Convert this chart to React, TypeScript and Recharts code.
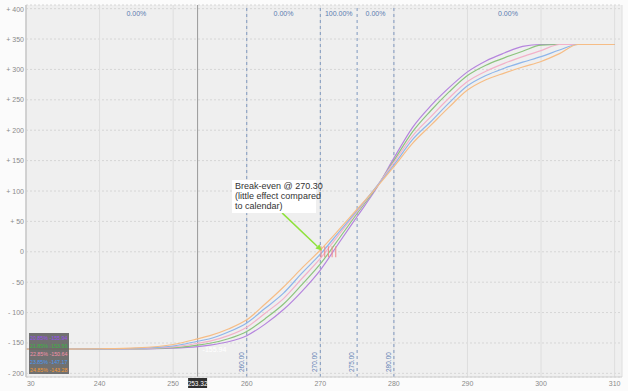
import React from "react"
import {
  LineChart,
  Line,
  XAxis,
  YAxis,
  CartesianGrid,
  ReferenceLine,
  ReferenceArea,
  ReferenceDot,
  Legend,
} from "recharts"

// strike prices along the x axis
const prices = [
  230, 235, 240, 245, 250, 253.32, 255, 257.5, 260, 262.5, 265, 267.5, 270, 272.5,
  275, 277.5, 280, 282.5, 285, 287.5, 290, 292.5, 295, 297.5, 300, 302.5, 305,
  307.5, 310,
]

// P&L per implied volatility
const iv2085 = [
  -160, -160, -160, -159.8, -158.5, -155.94, -153.5, -148, -138, -119, -95, -65,
  -30, 14, 58, 102, 154, 204, 240, 270, 296, 314, 327, 338, 341, 341, 341, 341, 341,
]
const iv2185 = [
  -160, -160, -160, -159.6, -157.8, -153.56, -150.5, -143, -131, -110, -86, -54,
  -20, 21, 63, 104, 150, 197, 232, 263, 290, 307, 319, 330, 340, 341, 341, 341, 341,
]
const iv2285 = [
  -160, -160, -159.9, -159.3, -156.5, -150.64, -147, -138, -124, -101, -77, -44,
  -11, 28, 66, 105, 147, 190, 222, 253, 280, 297, 310, 321, 331, 341, 341, 341, 341,
]
const iv2385 = [
  -160, -160, -159.7, -158.8, -155, -147.17, -143, -132, -117, -93, -68, -35, -4,
  32, 68, 105, 143, 184, 214, 245, 273, 290, 302, 312, 321, 332, 341, 341, 341,
]
const iv2485 = [
  -160, -160, -159.5, -158, -152.5, -143.28, -138, -127, -112, -86, -58, -27, 3,
  36, 70, 104, 140, 178, 208, 238, 266, 283, 294, 304, 313, 326, 341, 341, 341,
]

const seriesKeys = ["iv2085", "iv2185", "iv2285", "iv2385", "iv2485"]
const seriesNames = ["20.85%", "21.85%", "22.85%", "23.85%", "24.85%"]
const lineColors = ["#b584de", "#8cc47e", "#f3b1c9", "#8db5ea", "#f6bd86"]
const legendColors = ["#9b4ff0", "#3bb042", "#f590ab", "#4a98f0", "#f59a30"]

const xTicks = [230, 240, 250, 260, 270, 280, 290, 300, 310]
const yTicks = [-200, -150, -100, -50, 0, 50, 100, 150, 200, 250, 300, 350, 400]

const cursorPrice = 253.32
const strikeLines = [260, 270, 275, 280]
const zones = [
  { from: 230, to: 260, pct: "0.00%" },
  { from: 260, to: 270, pct: "0.00%" },
  { from: 270, to: 275, pct: "100.00%" },
  { from: 275, to: 280, pct: "0.00%" },
  { from: 280, to: 311, pct: "0.00%" },
]
const breakEvens = [270.1, 270.6, 271.1, 271.6, 272.1]

const allSeries = [iv2085, iv2185, iv2285, iv2385, iv2485]
const data = prices.map((p, i) => {
  const row: Record<string, number> = { price: p }
  seriesKeys.forEach((k, j) => {
    row[k] = allSeries[j][i]
  })
  return row
})
const cursorIndex = prices.indexOf(cursorPrice)

function XTick({ x, y, payload }: any) {
  if (payload.value === 230) {
    return (
      <text x={x - 3} y={y} dy={7} textAnchor="start" fontSize={7} fill="#8a8a8a">
        <tspan fillOpacity={0}>2</tspan>
        <tspan>30</tspan>
      </text>
    )
  }
  return (
    <text x={x} y={y} dy={7} textAnchor="middle" fontSize={7} fill="#8a8a8a">
      {payload.value}
    </text>
  )
}

function YTick({ x, y, payload }: any) {
  const v = payload.value
  const s = v > 0 ? `+ ${v}` : v < 0 ? `- ${Math.abs(v)}` : "0"
  return (
    <text x={x} y={y} dy={2.5} textAnchor="end" fontSize={7} fill="#8a8a8a">
      {s}
    </text>
  )
}

const strikeLabel = (text: string) => (props: any) => {
  const vb = props.viewBox
  const x = vb.x - 3
  const y = vb.y + vb.height - 5
  return (
    <text
      x={x}
      y={y}
      transform={`rotate(-90 ${x} ${y})`}
      fontSize={6.5}
      fill="#5d80b3"
      textAnchor="start"
    >
      {text}
    </text>
  )
}

const cursorLabel = (props: any) => {
  const vb = props.viewBox
  const bottom = vb.y + vb.height
  return (
    <g>
      <rect x={vb.x - 9.5} y={bottom + 1} width={19} height={10} fill="#2f2f2f" />
      <text x={vb.x} y={bottom + 8.5} textAnchor="middle" fontSize={6.5} fill="#ffffff">
        {cursorPrice.toFixed(2)}
      </text>
    </g>
  )
}

function Arrow({ x1, y1, x2, y2 }: any) {
  const a = Math.atan2(y2 - y1, x2 - x1)
  const len = 6
  const w = 3
  const bx = x2 - len * Math.cos(a)
  const by = y2 - len * Math.sin(a)
  const p1 = `${bx + w * Math.sin(a)},${by - w * Math.cos(a)}`
  const p2 = `${bx - w * Math.sin(a)},${by + w * Math.cos(a)}`
  return (
    <g>
      <line x1={x1} y1={y1} x2={bx} y2={by} stroke="#8fe23c" strokeWidth={1.5} />
      <polygon points={`${x2},${y2} ${p1} ${p2}`} fill="#8fe23c" />
    </g>
  )
}

function NoteBox({ cx, cy }: any) {
  return (
    <g>
      <rect x={cx} y={cy} width={84} height={33} fill="#ffffff" />
      <text x={cx + 3} y={cy + 9} fontSize={9} fill="#333333">
        Break-even @ 270.30
      </text>
      <text x={cx + 3} y={cy + 19} fontSize={9} fill="#333333">
        (little effect compared
      </text>
      <text x={cx + 3} y={cy + 29} fontSize={9} fill="#333333">
        to calendar)
      </text>
    </g>
  )
}

function CursorValue({ cx, cy }: any) {
  return (
    <text x={cx + 5} y={cy + 5} fontSize={7} fill="#ffffff">
      {iv2085[cursorIndex].toFixed(2)}
    </text>
  )
}

function IvLegend() {
  return (
    <div
      style={{
        background: "rgba(95,95,95,0.88)",
        width: 40,
        height: 41,
        padding: "1px 0 0 1px",
        boxSizing: "border-box",
        fontSize: 5.3,
        lineHeight: "8px",
        whiteSpace: "nowrap",
      }}
    >
      {seriesNames.map((n, i) => (
        <div key={n} style={{ color: legendColors[i] }}>
          {n} {allSeries[i][cursorIndex].toFixed(2)}
        </div>
      ))}
    </div>
  )
}

export default function App() {
  return (
    <div
      style={{
        position: "absolute",
        left: 0,
        top: 0,
        width: 628,
        height: 391,
        background: "#fbfbfb",
        fontFamily: "'Liberation Sans', Arial, sans-serif",
      }}
    >
      <LineChart
        width={628}
        height={391}
        data={data}
        margin={{ top: 5, right: 6, bottom: 0, left: 0 }}
      >
        <CartesianGrid
          vertical={false}
          stroke="#d6d6d6"
          strokeDasharray="2 2"
          fill="#efefef"
        />
        <CartesianGrid horizontal={false} stroke="#dedede" />
        <XAxis
          dataKey="price"
          type="number"
          domain={[230, 311]}
          ticks={xTicks}
          height={14}
          tickSize={0}
          tickMargin={2}
          tick={<XTick />}
          axisLine={{ stroke: "#cfcfcf" }}
          tickLine={false}
          allowDataOverflow
        />
        <YAxis
          type="number"
          domain={[-206, 406]}
          ticks={yTicks}
          width={26}
          tickSize={0}
          tickMargin={2}
          tick={<YTick />}
          axisLine={{ stroke: "#c8c8c8", strokeWidth: 1.5 }}
          tickLine={false}
          allowDataOverflow
        />
        {zones.map((z) => (
          <ReferenceArea
            key={z.from}
            x1={z.from}
            x2={z.to}
            fillOpacity={0}
            stroke="none"
            label={{
              value: z.pct,
              position: "insideTop",
              offset: 6,
              fill: "#5a7bb0",
              fontSize: 7,
            }}
          />
        ))}
        {strikeLines.map((s) => (
          <ReferenceLine
            key={s}
            x={s}
            stroke="#7f98bf"
            strokeDasharray="3 3"
            label={strikeLabel(s.toFixed(2))}
          />
        ))}
        <ReferenceLine x={cursorPrice} stroke="#9a9a9a" label={cursorLabel} />
        {seriesKeys.map((k, i) => (
          <Line
            key={k}
            dataKey={k}
            name={seriesNames[i]}
            type="monotone"
            stroke={lineColors[i]}
            strokeWidth={1.2}
            dot={false}
            isAnimationActive={false}
          />
        ))}
        {breakEvens.map((b) => (
          <ReferenceLine
            key={b}
            segment={[
              { x: b, y: -9 },
              { x: b, y: 9 },
            ]}
            stroke="#f08a8a"
            strokeWidth={1}
          />
        ))}
        <ReferenceLine
          segment={[
            { x: 264.8, y: 64 },
            { x: 270.2, y: 2 },
          ]}
          shape={(p: any) => <Arrow {...p} />}
        />
        <ReferenceDot
          x={258}
          y={118}
          r={0}
          ifOverflow="visible"
          shape={(p: any) => <NoteBox {...p} />}
        />
        <ReferenceDot
          x={cursorPrice}
          y={iv2085[cursorIndex]}
          r={0}
          shape={(p: any) => <CursorValue {...p} />}
        />
        <Legend
          layout="vertical"
          align="center"
          verticalAlign="middle"
          wrapperStyle={{ left: 29, top: 333, width: 40, height: 41 }}
          content={() => <IvLegend />}
        />
      </LineChart>
    </div>
  )
}
